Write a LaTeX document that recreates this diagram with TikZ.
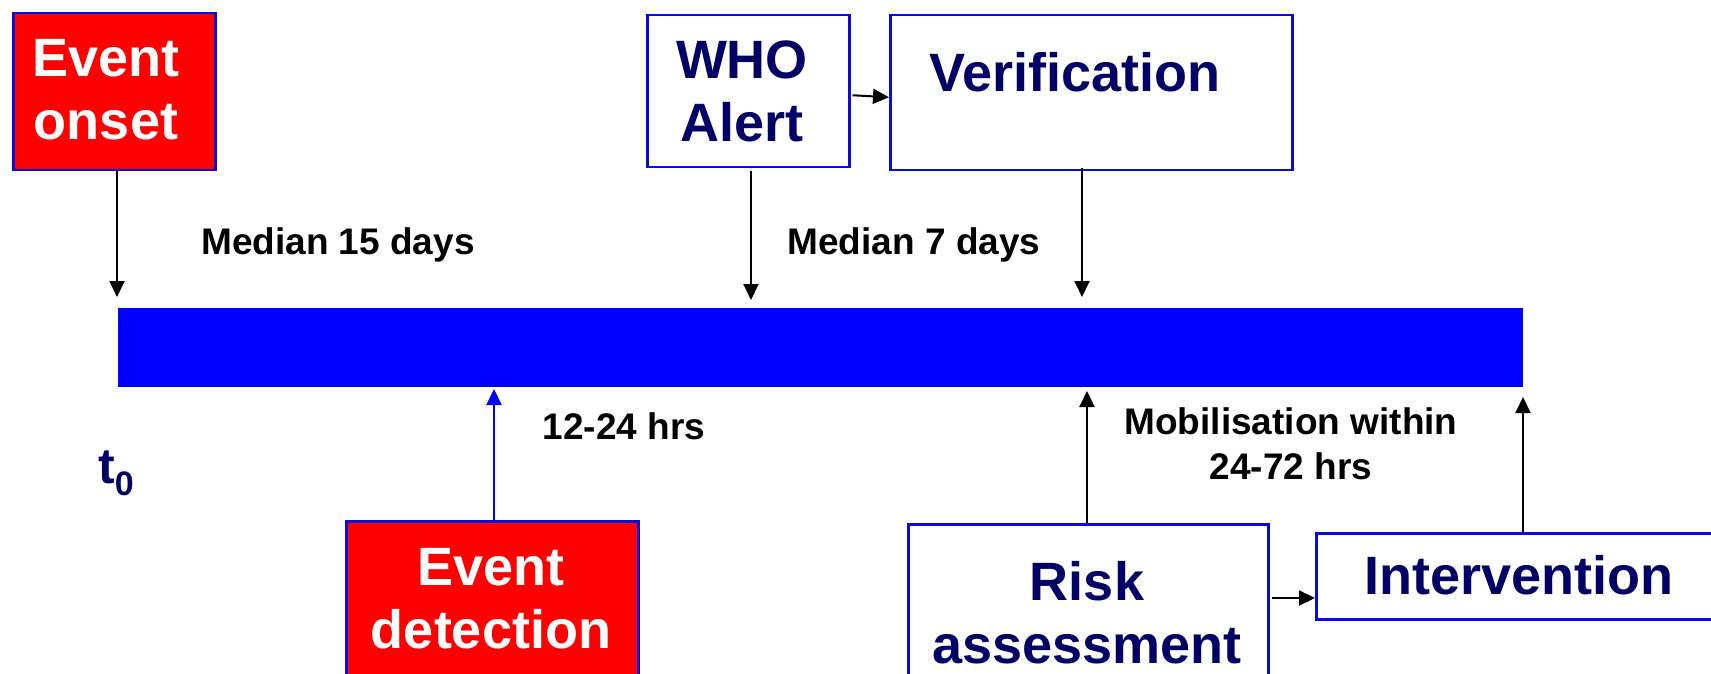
\documentclass[tikz,border=0pt]{standalone}
\usepackage{fontspec}
\setmainfont{Liberation Sans}
\usetikzlibrary{arrows.meta}
\definecolor{navy}{RGB}{0,0,102}
\definecolor{barblue}{RGB}{0,0,255}
\definecolor{edgeblue}{RGB}{10,10,220}
\definecolor{evred}{RGB}{255,0,0}
\tikzset{
  box/.style={draw=edgeblue, line width=2.5pt, inner sep=0pt},
  redbox/.style={box, fill=evred},
  whitebox/.style={box, fill=white},
  bigtxt/.style={font=\fontsize{54}{63}\selectfont\bfseries, align=center, inner sep=0pt},
  lbl/.style={font=\fontsize{37}{45}\selectfont\bfseries, align=center, inner sep=0pt, text=black},
  arr/.style={-{Triangle[length=16pt,width=15pt]}, line width=2pt, black},
  barrow/.style={arr, barblue}
}
\begin{document}
\begin{tikzpicture}[x=1pt,y=-1pt]
\useasboundingbox (0,0) rectangle (1711,674);
\clip (0,0) rectangle (1711,674);
% timeline bar
\node[fill=barblue, inner sep=0pt, minimum width=1405pt, minimum height=79pt, anchor=north west] (bar) at (118,308) {};
% boxes
\node[redbox, minimum width=202pt, minimum height=157pt, anchor=north west] (onset) at (12,12) {};
\node[whitebox, minimum width=202pt, minimum height=152pt, anchor=north west] (who) at (646,14) {};
\node[whitebox, minimum width=402pt, minimum height=155pt, anchor=north west] (verif) at (889,14) {};
\node[redbox, minimum width=292pt, minimum height=180pt, anchor=north west] (detect) at (345,520) {};
\node[whitebox, minimum width=360pt, minimum height=180pt, anchor=north west] (risk) at (907,523) {};
\node[whitebox, minimum width=420pt, minimum height=86pt, anchor=north west] (interv) at (1315,532) {};
% box texts
\node[bigtxt, text=white] (onsettxt) at (106,90) {Event\\onset};
\node[bigtxt, text=navy] (whotxt) at (742,91) {WHO\\Alert};
\node[bigtxt, text=navy] (veriftxt) at (1075,72) {Verification};
\node[bigtxt, text=white] (detecttxt) at (491,599) {Event\\detection};
\node[bigtxt, text=navy] (risktxt) at (1087,613) {Risk\\assessment};
\node[bigtxt, text=navy] (intervtxt) at (1519,575) {Intervention};
% labels
\node[lbl] (m15) at (338,245) {Median 15 days};
\node[lbl] (m7) at (914,245) {Median 7 days};
\node[lbl] (h1224) at (624,426) {12-24 hrs};
\node[lbl] (mob) at (1291,444) {Mobilisation within\\24-72 hrs};
\node[anchor=base west, inner sep=0pt, text=navy, font=\fontsize{50}{60}\selectfont\bfseries] (t0) at (98,483) {t\raisebox{-12pt}{\fontsize{34}{40}\selectfont 0}};
% arrow end points at the bar
\coordinate (eOnset) at (117,297);
\coordinate (eWho) at (751,300);
\coordinate (eVerif) at (1082,297);
\coordinate (eDetect) at (494,389);
\coordinate (eRisk) at (1087,391);
\coordinate (eInterv) at (1523,397);
% connectors
\draw[arr] (onset.south -| eOnset) -- (eOnset);
\draw[arr] ([yshift=-3pt]who.south -| eWho) -- (eWho);
\draw[arr] ([yshift=3pt]verif.south -| eVerif) -- (eVerif);
\draw[arr] ([xshift=2pt,yshift=-4pt]who.east) -- ([yshift=-4.5pt]verif.west);
\draw[barrow] (detect.north -| eDetect) -- (eDetect);
\draw[arr] (risk.north -| eRisk) -- (eRisk);
\draw[arr] (interv.north -| eInterv) -- (eInterv);
\draw[arr] ([xshift=2pt]risk.east |- 0,598) -- (interv.west |- 0,598);
\end{tikzpicture}
\end{document}
